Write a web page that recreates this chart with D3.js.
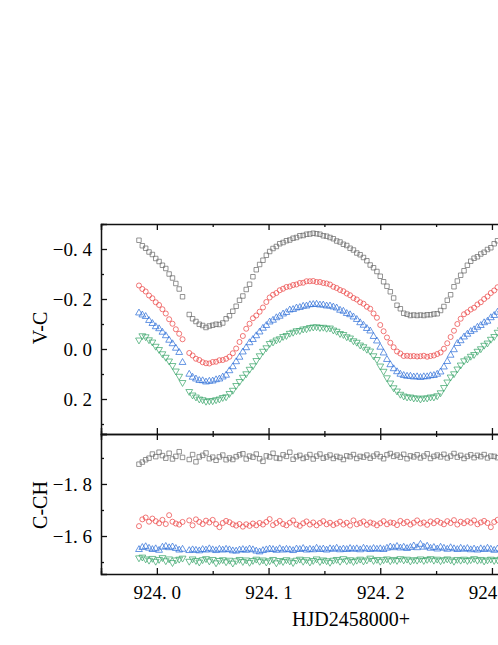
<!DOCTYPE html>
<html>
<head>
<meta charset="utf-8">
<script src="https://cdn.jsdelivr.net/npm/d3@7"></script>
<style>
  html, body { margin: 0; padding: 0; background: #fff; overflow: hidden; }
  svg text { font-family: "Liberation Serif", "DejaVu Serif", serif; fill: #000; }
</style>
</head>
<body>
<div id="chart"></div>
<script>
// HJD - 2458000
const hjd = [
  923.984, 923.987, 923.990, 923.993, 923.996, 923.999, 924.002, 924.005, 924.008, 924.011, 924.014, 924.017,
  924.020, 924.023, 924.029, 924.032, 924.035, 924.038, 924.041, 924.044, 924.047, 924.050, 924.053, 924.056,
  924.059, 924.062, 924.065, 924.068, 924.071, 924.074, 924.077, 924.080, 924.083, 924.086, 924.089, 924.092,
  924.095, 924.098, 924.101, 924.104, 924.107, 924.110, 924.113, 924.116, 924.119, 924.122, 924.125, 924.128,
  924.131, 924.134, 924.137, 924.140, 924.143, 924.146, 924.149, 924.152, 924.155, 924.158, 924.161, 924.164,
  924.167, 924.170, 924.173, 924.176, 924.179, 924.182, 924.185, 924.188, 924.191, 924.194, 924.197, 924.200,
  924.203, 924.206, 924.209, 924.212, 924.215, 924.218, 924.221, 924.224, 924.227, 924.230, 924.233, 924.236,
  924.239, 924.242, 924.245, 924.248, 924.251, 924.254, 924.257, 924.260, 924.263, 924.266, 924.269, 924.272,
  924.275, 924.278, 924.281, 924.284, 924.287, 924.290, 924.293, 924.296, 924.299, 924.302, 924.305, 924.308
];

// V-C (upper panel)
const vcGray = [
  -0.435, -0.413, -0.403, -0.388, -0.378, -0.362, -0.350, -0.335, -0.322, -0.300, -0.284, -0.262,
  -0.240, -0.209, -0.138, -0.121, -0.110, -0.099, -0.094, -0.086, -0.092, -0.095, -0.099, -0.098,
  -0.104, -0.121, -0.133, -0.151, -0.171, -0.195, -0.212, -0.238, -0.259, -0.289, -0.317, -0.338,
  -0.355, -0.375, -0.390, -0.402, -0.410, -0.421, -0.426, -0.433, -0.436, -0.443, -0.446, -0.453,
  -0.454, -0.459, -0.460, -0.463, -0.461, -0.459, -0.453, -0.451, -0.446, -0.441, -0.432, -0.428,
  -0.419, -0.414, -0.403, -0.396, -0.384, -0.377, -0.366, -0.353, -0.336, -0.325, -0.310, -0.291,
  -0.269, -0.251, -0.229, -0.204, -0.175, -0.161, -0.143, -0.139, -0.134, -0.136, -0.134, -0.136,
  -0.134, -0.137, -0.137, -0.140, -0.141, -0.154, -0.170, -0.195, -0.217, -0.249, -0.272, -0.295,
  -0.313, -0.335, -0.351, -0.363, -0.369, -0.380, -0.387, -0.398, -0.405, -0.421, -0.433, -0.446
];
const vcRed = [
  -0.254, -0.240, -0.230, -0.214, -0.203, -0.187, -0.176, -0.159, -0.142, -0.119, -0.101, -0.079,
  -0.061, -0.039, 0.016, 0.026, 0.039, 0.044, 0.053, 0.057, 0.058, 0.052, 0.051, 0.045,
  0.044, 0.039, 0.031, 0.017, -0.002, -0.028, -0.052, -0.081, -0.101, -0.123, -0.134, -0.149,
  -0.166, -0.188, -0.206, -0.217, -0.224, -0.235, -0.241, -0.248, -0.250, -0.256, -0.258, -0.264,
  -0.265, -0.271, -0.271, -0.272, -0.268, -0.268, -0.264, -0.262, -0.258, -0.249, -0.244, -0.236,
  -0.231, -0.222, -0.215, -0.204, -0.198, -0.187, -0.181, -0.169, -0.161, -0.142, -0.125, -0.096,
  -0.071, -0.046, -0.025, -0.007, 0.010, 0.018, 0.028, 0.027, 0.029, 0.028, 0.030, 0.029,
  0.027, 0.031, 0.028, 0.026, 0.020, 0.014, -0.001, -0.023, -0.048, -0.073, -0.100, -0.121,
  -0.139, -0.147, -0.158, -0.165, -0.178, -0.187, -0.200, -0.210, -0.224, -0.234, -0.247, -0.255
];
const vcBlue = [
  -0.144, -0.136, -0.130, -0.114, -0.102, -0.089, -0.081, -0.067, -0.053, -0.035, -0.021, -0.003,
  0.014, 0.054, 0.101, 0.113, 0.120, 0.126, 0.127, 0.132, 0.129, 0.128, 0.123, 0.120,
  0.112, 0.105, 0.087, 0.071, 0.051, 0.033, 0.012, -0.005, -0.025, -0.038, -0.053, -0.068,
  -0.083, -0.094, -0.108, -0.115, -0.125, -0.131, -0.140, -0.146, -0.156, -0.158, -0.164, -0.166,
  -0.171, -0.172, -0.177, -0.178, -0.179, -0.176, -0.176, -0.172, -0.172, -0.168, -0.164, -0.155,
  -0.151, -0.142, -0.137, -0.128, -0.118, -0.105, -0.095, -0.082, -0.072, -0.050, -0.032, -0.007,
  0.016, 0.042, 0.063, 0.079, 0.091, 0.101, 0.106, 0.109, 0.109, 0.112, 0.111, 0.114,
  0.111, 0.111, 0.107, 0.106, 0.101, 0.092, 0.072, 0.050, 0.025, 0.003, -0.022, -0.033,
  -0.048, -0.059, -0.070, -0.077, -0.087, -0.094, -0.105, -0.111, -0.125, -0.134, -0.147, -0.155
];
const vcGreen = [
  -0.036, -0.053, -0.049, -0.037, -0.028, -0.011, 0.002, 0.019, 0.033, 0.048, 0.066, 0.088,
  0.109, 0.134, 0.170, 0.184, 0.192, 0.200, 0.203, 0.209, 0.207, 0.207, 0.203, 0.200,
  0.194, 0.191, 0.178, 0.165, 0.146, 0.130, 0.113, 0.099, 0.081, 0.067, 0.046, 0.027,
  0.009, -0.005, -0.022, -0.028, -0.036, -0.041, -0.050, -0.054, -0.063, -0.067, -0.073, -0.074,
  -0.080, -0.081, -0.086, -0.088, -0.089, -0.086, -0.087, -0.083, -0.084, -0.076, -0.071, -0.062,
  -0.058, -0.049, -0.044, -0.033, -0.027, -0.016, -0.009, 0.001, 0.008, 0.027, 0.042, 0.068,
  0.089, 0.115, 0.136, 0.155, 0.168, 0.181, 0.188, 0.192, 0.192, 0.196, 0.196, 0.200,
  0.196, 0.196, 0.192, 0.192, 0.187, 0.175, 0.154, 0.132, 0.112, 0.099, 0.080, 0.064,
  0.047, 0.040, 0.029, 0.022, 0.009, -0.001, -0.015, -0.024, -0.039, -0.050, -0.067, -0.077
];

// C-CH (lower panel)
const cchGray = [
  -1.876, -1.884, -1.893, -1.899, -1.915, -1.905, -1.922, -1.909, -1.899, -1.918, -1.896, -1.906,
  -1.924, -1.902, -1.894, -1.913, -1.885, -1.904, -1.910, -1.919, -1.897, -1.903, -1.891, -1.904,
  -1.911, -1.893, -1.900, -1.894, -1.905, -1.912, -1.916, -1.896, -1.907, -1.903, -1.915, -1.897,
  -1.887, -1.908, -1.904, -1.918, -1.900, -1.898, -1.912, -1.906, -1.922, -1.895, -1.905, -1.910,
  -1.898, -1.903, -1.913, -1.896, -1.907, -1.915, -1.899, -1.904, -1.911, -1.898, -1.906, -1.902,
  -1.894, -1.908, -1.905, -1.913, -1.898, -1.906, -1.903, -1.911, -1.899, -1.907, -1.915, -1.905,
  -1.897, -1.912, -1.917, -1.906, -1.911, -1.903, -1.914, -1.897, -1.908, -1.904, -1.912, -1.900,
  -1.907, -1.916, -1.898, -1.906, -1.911, -1.904, -1.914, -1.900, -1.907, -1.917, -1.903, -1.910,
  -1.898, -1.906, -1.912, -1.901, -1.910, -1.905, -1.913, -1.900, -1.907, -1.906, -1.901, -1.911
];
const cchRed = [
  -1.638, -1.664, -1.671, -1.655, -1.667, -1.657, -1.649, -1.662, -1.646, -1.680, -1.655, -1.648,
  -1.644, -1.654, -1.660, -1.641, -1.664, -1.654, -1.646, -1.659, -1.652, -1.662, -1.646, -1.634,
  -1.650, -1.658, -1.653, -1.645, -1.640, -1.646, -1.636, -1.645, -1.639, -1.648, -1.641, -1.650,
  -1.644, -1.654, -1.665, -1.642, -1.650, -1.658, -1.646, -1.641, -1.651, -1.660, -1.644, -1.639,
  -1.649, -1.656, -1.644, -1.652, -1.641, -1.650, -1.657, -1.645, -1.651, -1.642, -1.648, -1.655,
  -1.644, -1.651, -1.640, -1.660, -1.645, -1.650, -1.656, -1.643, -1.652, -1.648, -1.641, -1.649,
  -1.657, -1.645, -1.652, -1.650, -1.642, -1.658, -1.649, -1.655, -1.644, -1.651, -1.660, -1.648,
  -1.652, -1.643, -1.656, -1.649, -1.658, -1.651, -1.645, -1.657, -1.650, -1.661, -1.644, -1.655,
  -1.649, -1.657, -1.651, -1.660, -1.645, -1.652, -1.658, -1.650, -1.634, -1.654, -1.662, -1.651
];
const cchBlue = [
  -1.548, -1.556, -1.559, -1.553, -1.548, -1.551, -1.545, -1.557, -1.560, -1.555, -1.558, -1.552,
  -1.546, -1.549, -1.544, -1.547, -1.545, -1.543, -1.548, -1.546, -1.551, -1.547, -1.544, -1.549,
  -1.546, -1.549, -1.547, -1.543, -1.542, -1.546, -1.548, -1.545, -1.550, -1.547, -1.542, -1.539,
  -1.544, -1.547, -1.550, -1.548, -1.545, -1.551, -1.546, -1.549, -1.547, -1.544, -1.550, -1.548,
  -1.552, -1.546, -1.549, -1.547, -1.553, -1.548, -1.550, -1.546, -1.551, -1.549, -1.553, -1.547,
  -1.550, -1.548, -1.552, -1.549, -1.551, -1.547, -1.553, -1.550, -1.548, -1.552, -1.549, -1.551,
  -1.548, -1.553, -1.558, -1.555, -1.560, -1.554, -1.557, -1.552, -1.556, -1.562, -1.555, -1.568,
  -1.557, -1.561, -1.553, -1.556, -1.550, -1.557, -1.553, -1.549, -1.555, -1.551, -1.548, -1.553,
  -1.549, -1.552, -1.547, -1.550, -1.546, -1.551, -1.548, -1.553, -1.549, -1.545, -1.550, -1.547
];
const cchGreen = [
  -1.516, -1.519, -1.512, -1.507, -1.514, -1.503, -1.510, -1.517, -1.505, -1.512, -1.498, -1.508,
  -1.511, -1.515, -1.503, -1.512, -1.506, -1.500, -1.509, -1.513, -1.504, -1.510, -1.497, -1.506,
  -1.509, -1.501, -1.507, -1.496, -1.505, -1.510, -1.502, -1.508, -1.499, -1.506, -1.511, -1.503,
  -1.508, -1.500, -1.505, -1.510, -1.497, -1.506, -1.502, -1.509, -1.504, -1.498, -1.507, -1.511,
  -1.503, -1.509, -1.500, -1.506, -1.512, -1.502, -1.508, -1.505, -1.499, -1.507, -1.510, -1.503,
  -1.513, -1.505, -1.509, -1.502, -1.507, -1.511, -1.504, -1.508, -1.515, -1.506, -1.510, -1.503,
  -1.509, -1.512, -1.505, -1.510, -1.506, -1.513, -1.508, -1.511, -1.504, -1.509, -1.507, -1.512,
  -1.506, -1.510, -1.513, -1.507, -1.511, -1.505, -1.509, -1.512, -1.508, -1.503, -1.510, -1.507,
  -1.511, -1.506, -1.509, -1.513, -1.507, -1.510, -1.504, -1.508, -1.511, -1.506, -1.509, -1.512
];

// tick values
const xMajor = [924.0, 924.1, 924.2, 924.3];
const xMinor = [923.95, 924.05, 924.15, 924.25, 924.35];
const vcMajor = [-0.4, -0.2, 0.0, 0.2];
const vcMinor = [-0.5, -0.3, -0.1, 0.1, 0.3];
const cchMajor = [-1.8, -1.6];
const cchMinor = [-1.9, -1.7, -1.5];


const width = 498, height = 645;
const plotLeft = 101, plotTop = 224, plotMid = 434, plotBottom = 574;

const svg = d3.select("#chart").append("svg")
    .attr("width", width)
    .attr("height", height);

// scales
const x = d3.scaleLinear().domain([923.95, 924.35]).range([plotLeft, plotLeft + 0.4 * 1117]);
const yTop = d3.scaleLinear().domain([-0.5, 0.34]).range([plotTop, plotMid]);
const yBot = d3.scaleLinear().domain([-1.992, -1.454]).range([plotMid, plotBottom]);

const fmt = d => d3.format(".1f")(d).replace("-", "\u2212").replace(".", ". ");

const series = [
    { shape: d3.symbolSquare, size: 20, rot: 0, color: "#6a6a6a", vc: vcGray, cch: cchGray },
    { shape: d3.symbolCircle, size: 20, rot: 0, color: "#ec4444", vc: vcRed, cch: cchRed },
    { shape: d3.symbolTriangle, size: 20, rot: 0, color: "#2d6ed8", vc: vcBlue, cch: cchBlue },
    { shape: d3.symbolTriangle, size: 20, rot: 180, color: "#38a468", vc: vcGreen, cch: cchGreen }
];

// points
series.forEach(s => {
    let sym = d3.symbol().type(s.shape).size(s.size);

    [[s.vc, yTop], [s.cch, yBot]].forEach(([vals, y]) => {
        svg.append("g")
            .selectAll("path")
            .data(hjd.map((t, i) => ({ t: t, v: vals[i] })))
            .enter()
            .append("path")
            .attr("d", sym)
            .attr("transform", d => "translate(" + x(d.t) + "," + y(d.v) + ") rotate(" + s.rot + ")")
            .attr("fill", "none")
            .attr("stroke", s.color)
            .attr("stroke-opacity", 0.85)
            .attr("stroke-width", 0.85);
    });
});

// axes helper
function drawAxis(axisFn, scale, pos, major, minor, size, labels) {
    let g = svg.append("g").attr("transform", pos);
    g.call(axisFn(scale).tickValues(major).tickSize(size).tickPadding(labels ? 9 : 0)
        .tickFormat(labels ? fmt : ""));
    g.append("g").call(axisFn(scale).tickValues(minor).tickSize(size / 2).tickFormat(""))
        .select(".domain").remove();
    g.selectAll("line").attr("stroke", "#111").attr("stroke-width", 1.3);
    g.selectAll(".domain").attr("stroke", "#111").attr("stroke-width", 1.5);
    g.selectAll("text").style("font-size", "19px");
    return g;
}

// upper panel
drawAxis(d3.axisLeft, yTop, "translate(" + plotLeft + ",0)", vcMajor, vcMinor, -6, true);
drawAxis(d3.axisTop, x, "translate(0," + plotTop + ")", xMajor, xMinor, -6, false);
drawAxis(d3.axisBottom, x, "translate(0," + plotMid + ")", xMajor, xMinor, -6, false);

// lower panel
drawAxis(d3.axisLeft, yBot, "translate(" + plotLeft + ",0)", cchMajor, cchMinor, -6, true);
drawAxis(d3.axisTop, x, "translate(0," + plotMid + ")", xMajor, xMinor, -6, false);
let xb = drawAxis(d3.axisBottom, x, "translate(0," + plotBottom + ")", xMajor, xMinor, -6, true);
xb.selectAll("text").attr("y", 25).attr("dy", 0);

// axis titles
svg.append("text")
    .attr("transform", "translate(47," + ((plotTop + plotMid) / 2 - 1) + ") rotate(-90)")
    .attr("text-anchor", "middle")
    .style("font-size", "20px")
    .text("V-C");

svg.append("text")
    .attr("transform", "translate(47," + ((plotMid + plotBottom) / 2 + 1) + ") rotate(-90)")
    .attr("text-anchor", "middle")
    .style("font-size", "20px")
    .text("C-CH");

svg.append("text")
    .attr("x", 351)
    .attr("y", 626)
    .attr("text-anchor", "middle")
    .style("font-size", "20px")
    .text("HJD2458000+");
</script>
</body>
</html>
